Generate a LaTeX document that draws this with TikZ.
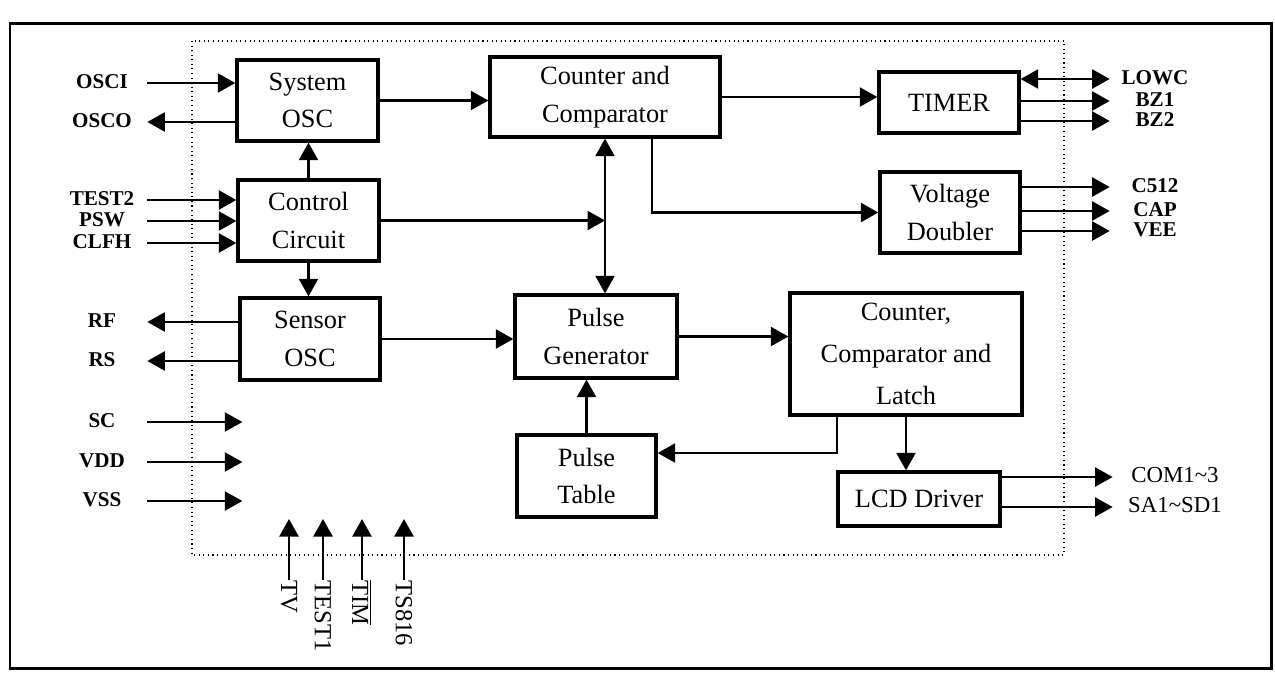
\documentclass[tikz,border=0pt]{standalone}
\usepackage{fontspec}
\setmainfont{Liberation Serif}
\usetikzlibrary{
  arrows.meta,
  calc,
  positioning,
}
\tikzset{
  >={Triangle[length=0.35cm,width=0.38cm]},
  block/.style={draw, line width=1.9pt, align=center, inner sep=0pt,
    font=\fontsize{15}{21.5}\selectfont},
  pinleft/.style={inner sep=0pt, minimum width=1.8cm,
    text height=0.64em, text depth=0pt,
    font=\bfseries\fontsize{12}{14}\selectfont},
  pinright/.style={pinleft},
  pinlcd/.style={inner sep=0pt, minimum width=2.48cm,
    text height=0.66em, text depth=0pt,
    font=\fontsize{13}{14}\selectfont},
  pinbottom/.style={inner sep=0pt, rotate=-90, anchor=west,
    font=\fontsize{14}{15}\selectfont},
  sig/.style={->, line width=1.3pt},
}

\begin{document}
\begin{tikzpicture}[x=0.02cm, y=-0.02cm]
  \useasboundingbox (0,0) rectangle (1275,674);
  \draw[line width=1.7pt] (10,23) rectangle (1271,668);
  \draw[dotted, line width=0.6pt] (192,41) rectangle (1064,555);

  % blocks
  \node[block, minimum width=2.82cm, minimum height=1.62cm] (sysosc) at (307.5,100.5) {System\\OSC};
  \node[block, minimum width=2.82cm, minimum height=1.62cm] (ctrl) at (308.5,220.5) {Control\\Circuit};
  \node[block, minimum width=2.80cm, minimum height=1.64cm] (sensor) at (310,339) {Sensor\\OSC};
  \node[block, minimum width=4.60cm, minimum height=1.60cm] (cmp) at (605,97) {Counter and\\Comparator};
  \node[block, minimum width=2.80cm, minimum height=1.22cm] (timer) at (949,102.5) {TIMER};
  \node[block, minimum width=2.80cm, minimum height=1.62cm] (doubler) at (950,212.5) {Voltage\\Doubler};
  \node[block, minimum width=3.24cm, minimum height=1.66cm] (pulsegen) at (596,336.5) {Pulse\\Generator};
  \node[block, minimum width=2.78cm, minimum height=1.64cm] (pulsetab) at (586.5,476) {Pulse\\Table};
  \node[block, minimum width=4.64cm, minimum height=2.44cm,
    font=\fontsize{15}{24}\selectfont] (latch) at (906,354) {Counter,\\Comparator and\\Latch};
  \node[block, minimum width=3.24cm, minimum height=1.08cm] (lcd) at (919,499) {LCD Driver};

  % pins
  \node[pinleft] (osci) at (102,83) {OSCI};
  \node[pinleft] (osco) at (102,122) {OSCO};
  \node[pinleft] (test2) at (102,200) {TEST2};
  \node[pinleft] (psw) at (102,221) {PSW};
  \node[pinleft] (clfh) at (102,243) {CLFH};
  \node[pinleft] (rf) at (102,322) {RF};
  \node[pinleft] (rs) at (102,361) {RS};
  \node[pinleft] (sc) at (102,422) {SC};
  \node[pinleft] (vdd) at (102,462) {VDD};
  \node[pinleft] (vss) at (102,501) {VSS};
  \node[pinright] (lowc) at (1155,79) {LOWC};
  \node[pinright] (bz1) at (1155,101) {BZ1};
  \node[pinright] (bz2) at (1155,121) {BZ2};
  \node[pinright] (c512) at (1155,187) {C512};
  \node[pinright] (cap) at (1155,211) {CAP};
  \node[pinright] (vee) at (1155,231) {VEE};
  \node[pinlcd] (com) at (1175,477) {COM1\textasciitilde3};
  \node[pinlcd] (sa) at (1175,507) {SA1\textasciitilde SD1};
  \node[pinbottom] (tv) at (289,580) {TV};
  \node[pinbottom] (test1) at (323,580) {TEST1};
  \node[pinbottom] (tim) at (362,580) {$\overline{\hbox{TIM}}$};
  \node[pinbottom] (ts816) at (404,580) {TS816};

  % connections
  \draw[sig] (osci.east) -- (osci -| sysosc.west);
  \draw[sig] (osco -| sysosc.west) -- (osco.east);
  \foreach \p in {test2,psw,clfh}
  {
    \draw[sig] (\p.east) -- (\p -| ctrl.west);
  }
  \draw[sig] (ctrl.north) -- (ctrl.north |- sysosc.south);
  \draw[sig] (ctrl.south) -- (ctrl.south |- sensor.north);
  \draw[sig] (sensor.west |- rf) -- (rf.east);
  \draw[sig] (sensor.west |- rs) -- (rs.east);
  \foreach \p in {sc,vdd,vss}
  {
    \draw[sig] (\p.east) -- ++(95,0);
  }
  \foreach \p in {tv,test1,tim,ts816}
  {
    \draw[sig] (\p.west) -- ++(0,-61);
  }
  \draw[sig] (sysosc.east) -- (sysosc.east -| cmp.west);
  \draw[sig] (ctrl.east) -- (ctrl.east -| cmp.south);
  \draw[sig, <->] (cmp.south) -- (cmp.south |- pulsegen.north);
  \draw[sig] (cmp.east) -- (cmp.east -| timer.west);
  \draw[sig] ($(cmp.south)+(47,0)$) |- (doubler.west);
  \draw[sig, <->] (timer.east |- lowc) -- (lowc.west);
  \foreach \p in {bz1,bz2}
  {
    \draw[sig] (timer.east |- \p) -- (\p.west);
  }
  \foreach \p in {c512,cap,vee}
  {
    \draw[sig] (doubler.east |- \p) -- (\p.west);
  }
  \draw[sig] (sensor.east) -- (sensor.east -| pulsegen.west);
  \draw[sig] (pulsetab.north) -- (pulsetab.north |- pulsegen.south);
  \draw[sig] (pulsegen.east) -- (pulsegen.east -| latch.west);
  \draw[sig] ($(latch.south)+(-69,0)$) |- ($(pulsetab.east)+(0,-23)$);
  \draw[sig] (latch.south) -- (latch.south |- lcd.north);
  \draw[sig] (lcd.east |- com) -- (com.west);
  \draw[sig] (lcd.east |- sa) -- (sa.west);
\end{tikzpicture}
\end{document}
